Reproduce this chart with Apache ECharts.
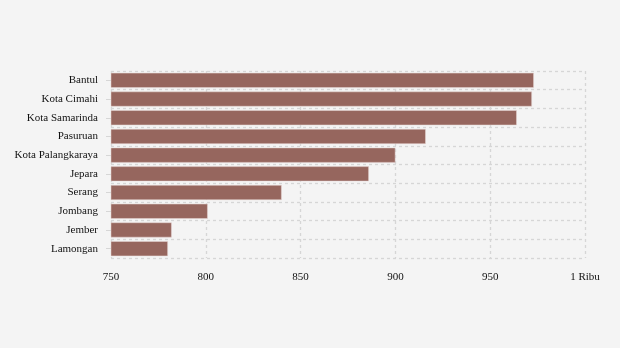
<!DOCTYPE html>
<html><head><meta charset="utf-8">
<script src="https://cdn.jsdelivr.net/npm/echarts@6/dist/echarts.min.js"></script>
<style>html,body{margin:0;padding:0;background:#f4f4f4;}#c{width:620px;height:348px;}</style>
</head><body><div id="c"></div>
<script>
var categories = ["Bantul","Kota Cimahi","Kota Samarinda","Pasuruan","Kota Palangkaraya","Jepara","Serang","Jombang","Jember","Lamongan"];
var values = [973, 972, 964, 916, 900, 886, 840, 801, 782, 780];
var xTicks = [750, 800, 850, 900, 950, 1000];

var chart = echarts.init(document.getElementById('c'), null, {renderer:'canvas'});
chart.setOption({
  backgroundColor: '#f4f4f4',
  animation: false,
  grid: {left: 111, right: 35, top: 71, bottom: 90},
  xAxis: {
    type: 'value', min: xTicks[0], max: xTicks[xTicks.length-1], interval: 50,
    axisLine: {show: false}, axisTick: {show: false},
    axisLabel: {fontFamily: 'Liberation Serif', fontSize: 11, color: '#111', margin: 14,
      formatter: function(v){ return v >= 1000 ? (v/1000) + ' Ribu' : String(v); }},
    splitLine: {show: true, lineStyle: {type: [3,3], color: '#d6d6d6', width: 1.3}}
  },
  yAxis: {
    type: 'category', data: categories, inverse: true,
    axisLine: {show: false},
    axisTick: {show: true, alignWithLabel: true, length: 5, lineStyle: {color: '#d6d6d6'}},
    axisLabel: {fontFamily: 'Liberation Serif', fontSize: 11, color: '#111', margin: 13, padding: [4,0,0,0]},
    splitLine: {show: true, lineStyle: {type: [3,3], color: '#d6d6d6', width: 1.3}}
  },
  series: [{
    type: 'bar', data: values, barCategoryGap: '20%',
    itemStyle: {color: '#96665e', borderColor: '#e8d8d6', borderWidth: 0.5}
  }]
});
</script></body></html>
